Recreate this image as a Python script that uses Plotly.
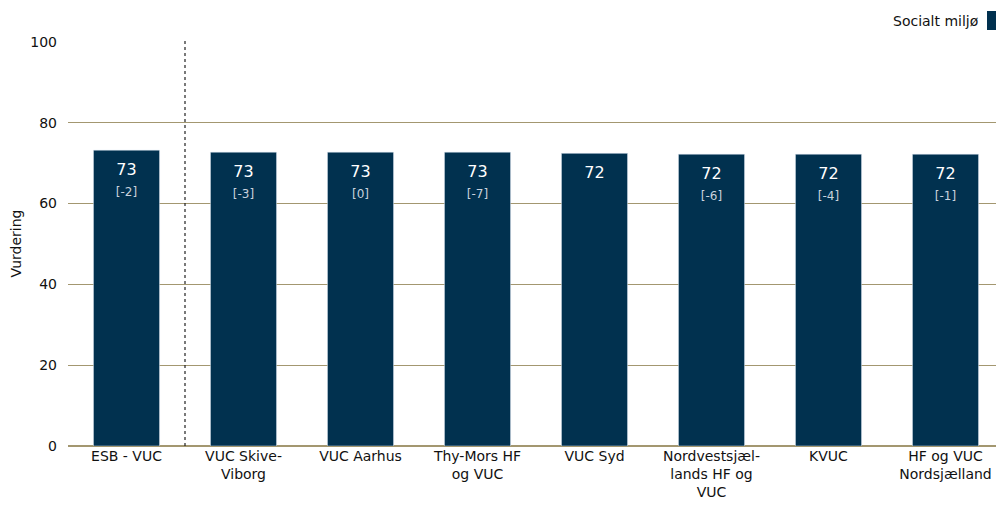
import plotly.graph_objects as go

categories = ["ESB - VUC", "VUC Skive-<br>Viborg", "VUC Aarhus", "Thy-Mors HF<br>og VUC", "VUC Syd",
              "Nordvestsjæl-<br>lands HF og<br>VUC", "KVUC", "HF og VUC<br>Nordsjælland"]
values = [73.2, 72.7, 72.7, 72.7, 72.4, 72.2, 72.2, 72.2]
labels = ["73", "73", "73", "73", "72", "72", "72", "72"]
changes = ["[-2]", "[-3]", "[0]", "[-7]", "", "[-6]", "[-4]", "[-1]"]
series_name = "Socialt miljø"
y_ticks = [0, 20, 40, 60, 80, 100]

BAR = "#01314f"
GRID = "#a39770"
FONT = "DejaVu Sans"

texts = []
for lab, ch in zip(labels, changes):
    t = "<span style='font-size:1px'> </span><br>" + lab
    if ch:
        t += "<br><span style='font-size:12px;color:#c9d2dd'>" + ch + "</span>"
    texts.append(t)

fig = go.Figure()
fig.add_trace(go.Bar(
    x=categories, y=values, name=series_name, marker_color=BAR,
    width=0.565, text=texts, textposition="inside", insidetextanchor="end",
    textangle=0, textfont=dict(color="white", size=16, family=FONT),
    showlegend=False, hoverinfo="skip",
))

fig.add_shape(type="line", xref="x", yref="paper", x0=0.5, x1=0.5, y0=0, y1=1,
              line=dict(color="#222222", width=1.2, dash="dot"))

PH = 405.0
PW = 936.0
fig.add_annotation(xref="paper", yref="paper", x=1.0, y=1.0, xshift=-23, yshift=20,
                   xanchor="right", yanchor="middle", showarrow=False,
                   text=series_name, font=dict(family=FONT, size=14, color="#111111"))
fig.add_shape(type="rect", xref="paper", yref="paper",
              x0=1 - 17 / PW, x1=1 - 3 / PW, y0=1 + 11 / PH, y1=1 + 30 / PH,
              line=dict(width=0), fillcolor=BAR, layer="above")

fig.update_layout(
    width=996, height=494,
    margin=dict(l=60, r=0, t=33, b=56),
    paper_bgcolor="white", plot_bgcolor="white",
    font=dict(family=FONT, size=14, color="#111111"),
    xaxis=dict(showgrid=False, ticks="", showline=False, tickfont=dict(size=14)),
    yaxis=dict(range=[0, 100.2], tickvals=y_ticks, showgrid=True, gridcolor=GRID, gridwidth=1,
               zeroline=True, zerolinecolor=GRID, zerolinewidth=1.5,
               title=dict(text="Vurdering", font=dict(size=14), standoff=10),
               ticks="", ticklabelstandoff=10),
)

fig.write_html("out.html")
